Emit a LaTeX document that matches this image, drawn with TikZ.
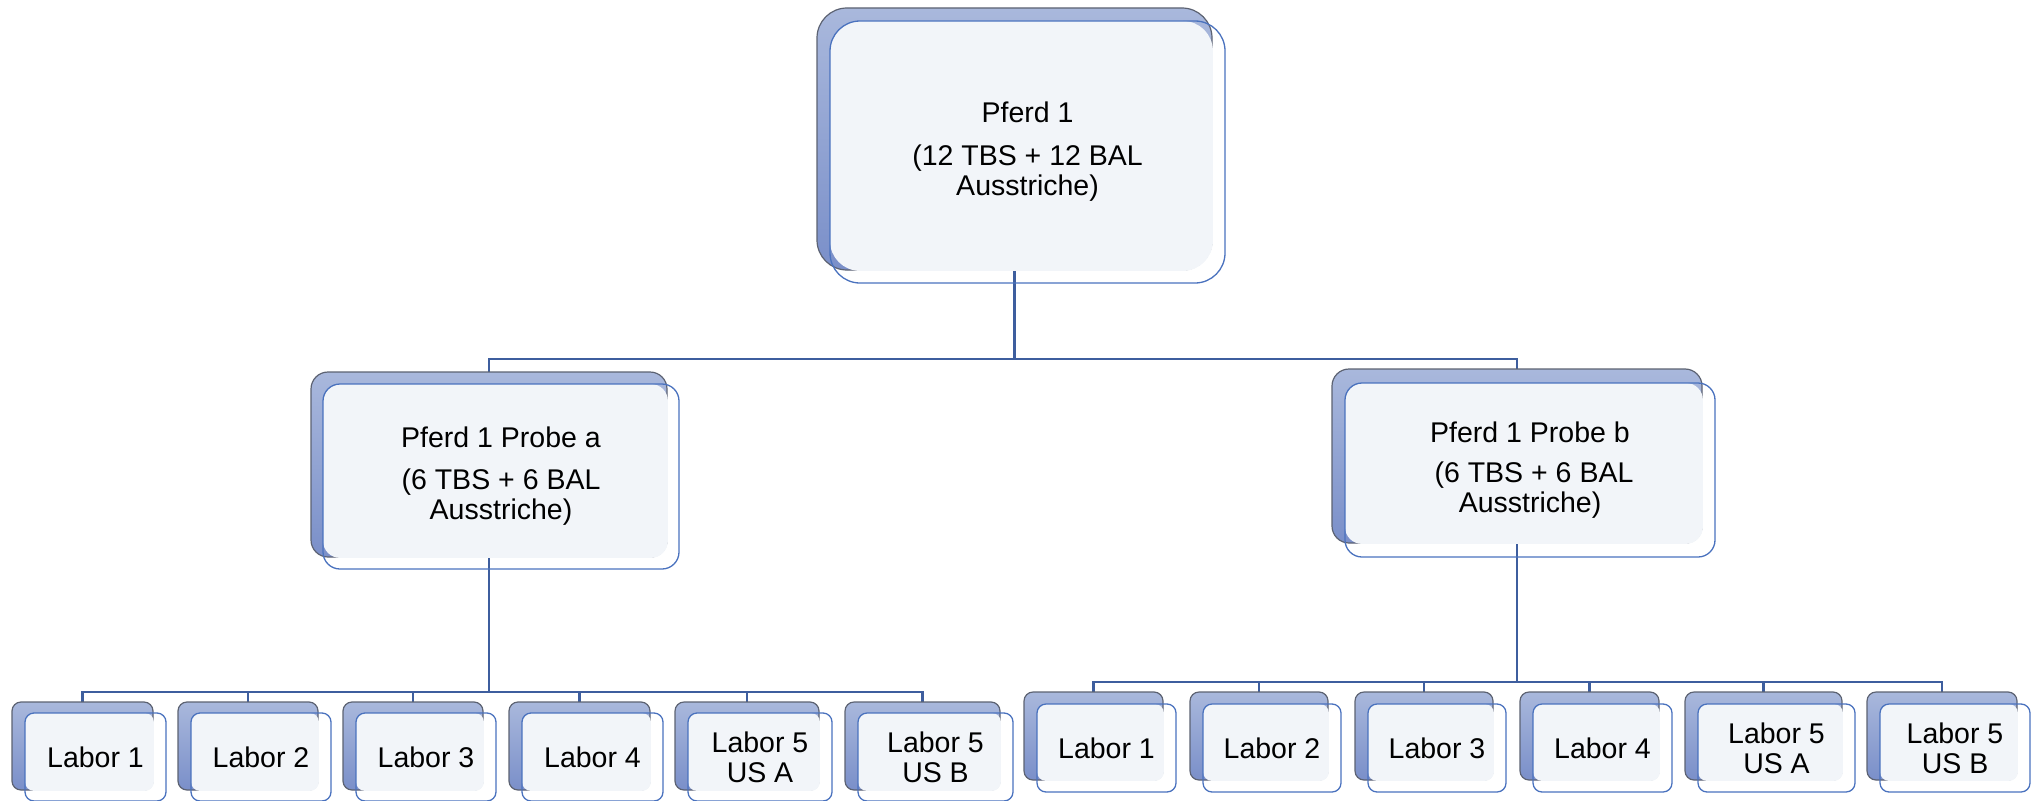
\documentclass[tikz,border=0pt]{standalone}
\usepackage{fontspec}
\setmainfont{Liberation Sans}
\definecolor{connblue}{HTML}{3E5E9E}
\definecolor{backtop}{HTML}{A9B8DC}
\definecolor{backbot}{HTML}{7A8FC9}
\definecolor{backline}{HTML}{5C6272}
\definecolor{frontline}{HTML}{4A72BE}
\definecolor{frontfill}{HTML}{F2F5F9}

\tikzset{
  conn/.style={draw=connblue, line width=2.8pt},
  backbox/.style={draw=backline, line width=1.2pt, top color=backtop, bottom color=backbot,
                  inner sep=0pt, outer sep=0pt},
  frontpane/.style={fill=frontfill},
  frontbox/.style={draw=frontline, line width=1.3pt, inner sep=0pt, outer sep=0pt,
                   align=center, font=\fontsize{28.5pt}{30pt}\selectfont},
}

% #1 name, #2-#5 back card corners (x1,y1,x2,y2), #6/#7 offset of the front card,
% #8 corner radius, #9 label
\newcommand\orgnode[9]{%
  \node[backbox, rounded corners=#8, minimum width={#4-#2}, minimum height={#5-#3}]
    (#1) at ({(#2+#4)/2},{(#3+#5)/2}) {};
  \fill[frontpane, rounded corners=#8] ({#2+#6},{#3+#7}) rectangle ({#4+0.9},{#5+0.9});
  \node[frontbox, rounded corners=#8, minimum width={#4-#2}, minimum height={#5-#3}]
    (#1f) at ({(#2+#4)/2+#6},{(#3+#5)/2+#7}) {#9};
}

\begin{document}
\begin{tikzpicture}[x=1pt,y=-1pt]
\useasboundingbox (0,0) rectangle (2036,800);

% junction points of the tree
\coordinate (jt) at (1014.5,359);
\coordinate (ja) at (489,692);
\coordinate (jb) at (1517,682);

% connectors (drawn first so that the cards sit on top)
\draw[conn] (1014.5,150) coordinate (tc) -- (jt);
\draw[conn] (jt) -| (489,372) coordinate (pan);
\draw[conn] (jt) -| (1517,369) coordinate (pbn);
\draw[conn] (pan) -- (ja);
\draw[conn] (pbn) -- (jb);
\foreach \x [count=\i] in {82.5,248,413,579.5,747,922.5}
  \draw[conn] (ja) -| (\x,702) coordinate (la\i n);
\foreach \x [count=\i] in {1093.5,1259,1424,1589.5,1763.5,1942}
  \draw[conn] (jb) -| (\x,692) coordinate (lb\i n);

% root
\orgnode{top}{817}{8}{1212}{270}{13}{13}{30}{Pferd 1\\[13pt](12 TBS + 12 BAL\\Ausstriche)}

% samples
\orgnode{pa}{311}{372}{667}{557}{12}{12}{17}{Pferd 1 Probe a\\[12pt](6 TBS + 6 BAL\\Ausstriche)}
\orgnode{pb}{1332}{369}{1702}{543}{13}{14}{17}{Pferd 1 Probe b\\[10pt]\hspace*{0.278em}(6 TBS + 6 BAL\\Ausstriche)}

% laboratories, sample a
\orgnode{la1}{12}{702}{153}{790}{13}{11}{9}{Labor 1}
\orgnode{la2}{178}{702}{318}{790}{13}{11}{9}{Labor 2}
\orgnode{la3}{343}{702}{483}{790}{13}{11}{9}{Labor 3}
\orgnode{la4}{509}{702}{650}{790}{13}{11}{9}{Labor 4}
\orgnode{la5}{675}{702}{819}{790}{13}{11}{9}{Labor 5\\US A}
\orgnode{la6}{845}{702}{1000}{790}{13}{11}{9}{Labor 5\\US B}

% laboratories, sample b
\orgnode{lb1}{1024}{692}{1163}{780}{13}{12}{9}{Labor 1}
\orgnode{lb2}{1190}{692}{1328}{780}{13}{12}{9}{Labor 2}
\orgnode{lb3}{1355}{692}{1493}{780}{13}{12}{9}{Labor 3}
\orgnode{lb4}{1520}{692}{1659}{780}{13}{12}{9}{Labor 4}
\orgnode{lb5}{1685}{692}{1842}{780}{13}{12}{9}{Labor 5\\US A}
\orgnode{lb6}{1867}{692}{2017}{780}{13}{12}{9}{Labor 5\\US B}
\end{tikzpicture}
\end{document}
